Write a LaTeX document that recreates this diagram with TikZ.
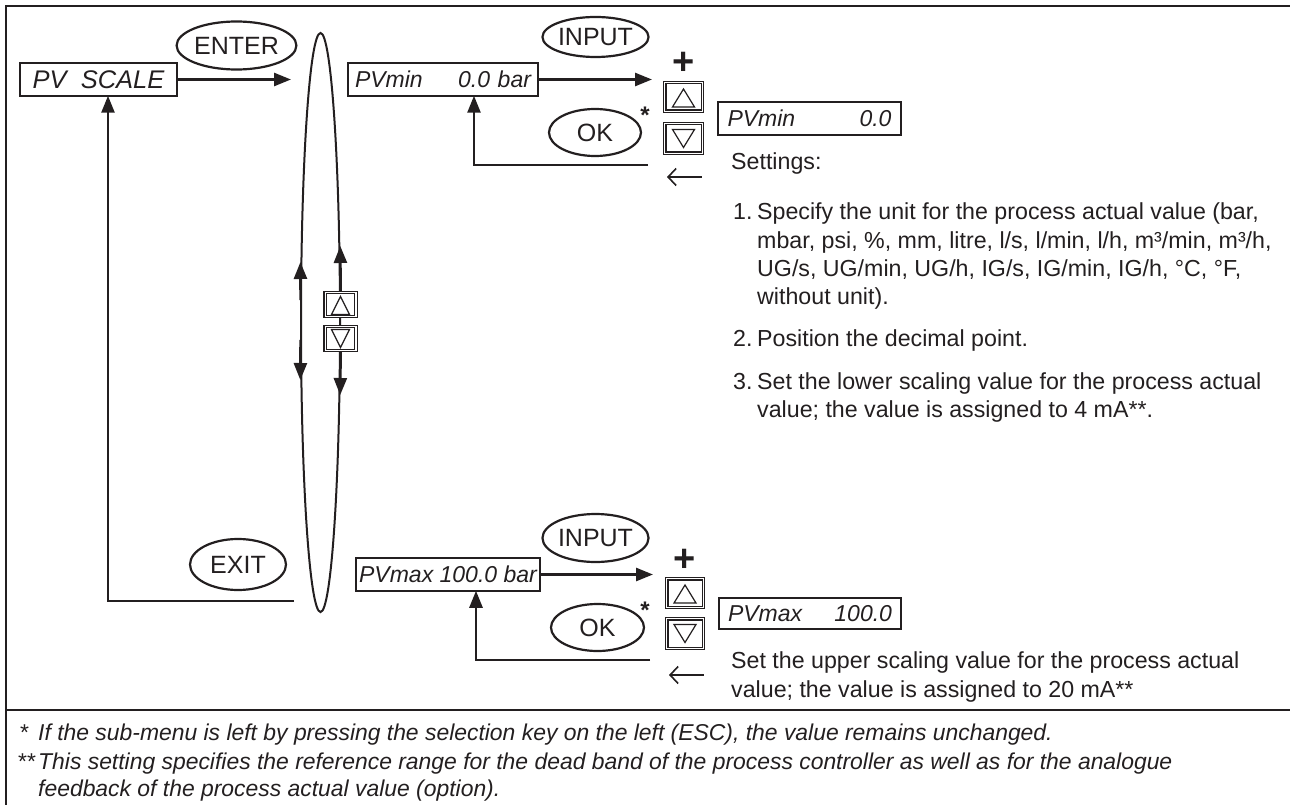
\documentclass[tikz,border=0pt]{standalone}
\usepackage{fontspec}
\setmainfont{Liberation Sans}
\usetikzlibrary{shapes.geometric,arrows.meta,calc}
\definecolor{ink}{RGB}{35,31,32}
\begin{document}
\begin{tikzpicture}[x=1pt,y=-1pt,
  box/.style={draw=ink, line width=2.4pt, rectangle, inner sep=0pt, outer sep=0pt, text=ink,
    font=\fontsize{23}{27}\selectfont\itshape},
  oval/.style={draw=ink, ellipse, line width=2.2pt, inner sep=0pt, outer sep=0pt, text=ink,
    font=\fontsize{25}{28}\selectfont},
  arr/.style={draw=ink, line width=2.6pt, -{Triangle[length=17pt,width=13pt]}},
  backarr/.style={draw=ink, line width=1.6pt, {Straight Barb[length=8pt,width=17pt]}-},
  key/.style={draw=ink, line width=1.2pt, double=white, double distance=1.2pt, fill=white,
    inner sep=0pt, outer sep=0pt},
  keyup/.style 2 args={key, path picture={\draw[ink, line width=1.2pt, line join=miter]
     ($(path picture bounding box.center)+(-#1,#2/2+1)$) --
     ($(path picture bounding box.center)+(0,-#2/2+1)$) --
     ($(path picture bounding box.center)+(#1,#2/2+1)$) -- cycle;}},
  keydown/.style 2 args={key, path picture={\draw[ink, line width=1.2pt, line join=miter]
     ($(path picture bounding box.center)+(-#1,-#2/2)$) --
     ($(path picture bounding box.center)+(0,#2/2)$) --
     ($(path picture bounding box.center)+(#1,-#2/2)$) -- cycle;}},
  txt/.style={text=ink, anchor=base west, inner sep=0pt, font=\fontsize{23.2}{28}\selectfont},
  foot/.style={text=ink, anchor=base west, inner sep=0pt, font=\fontsize{22.9}{27}\selectfont\itshape},
  plussign/.style={text=ink, inner sep=0pt, font=\fontsize{38}{38}\selectfont\bfseries},
  starsign/.style={text=ink, inner sep=0pt, font=\fontsize{24}{24}\selectfont\bfseries}
]
\useasboundingbox (0,0) rectangle (1290,805);
% frame
\draw[ink, line width=2.5pt] (1290,6) -- (6,6) -- (6,805);
\draw[ink, line width=2pt] (6,709.5) -- (1290,709.5);

% left part
\node[box, minimum width=156.5, minimum height=32.5, font=\fontsize{25.5}{30}\selectfont\itshape] (pvscale) at (98.5,79.5) {PV\ \ SCALE};
\node[oval, minimum width=99, minimum height=48] (enter) at (236.5,45.5) {ENTER};
\node[oval, minimum width=96, minimum height=51] (exit) at (238,564.5) {EXIT};
\node[draw=ink, ellipse, line width=2pt, inner sep=0pt, minimum width=39, minimum height=579] (big) at (320.5,322.5) {};

\coordinate (entertip) at (291,79.5);
\draw[arr] (pvscale.east) -- (entertip);

\coordinate (ex1) at (294,601);
\coordinate (ex2) at (108,601);
\draw[arr] (ex1) -- (ex2) -- (ex2 |- pvscale.south);

% arrows on big ellipse
\coordinate (lua) at (300.6,300); \coordinate (lub) at (300.4,262);
\coordinate (lda) at (300.6,340); \coordinate (ldb) at (300.3,380);
\coordinate (rua) at (340.6,291); \coordinate (rub) at (340.3,246);
\coordinate (rda) at (340.6,352); \coordinate (rdb) at (340.2,395);
\draw[arr] (lua) -- (lub);
\draw[arr] (lda) -- (ldb);
\draw[arr] (rua) -- (rub);
\draw[arr] (rda) -- (rdb);
\node[keyup={9}{18}, minimum width=30.8, minimum height=23.8] (mup) at (340.5,304.5) {};
\node[keydown={9}{18}, minimum width=30.8, minimum height=23.8] (mdown) at (340.5,338.5) {};

% top branch
\node[box, minimum width=189.5, minimum height=32.5, text width=176] (pvmin) at (443,79.5) {PVmin\hfill 0.0 bar};
\node[oval, minimum width=93, minimum height=40] (input1) at (595.5,37) {INPUT};
\coordinate (inputtip1) at (652,79.5);
\draw[arr] (pvmin.east) -- (inputtip1);
\node[plussign] (plus1) at (683.5,63) {+};
\node[keyup={11}{18}, minimum width=37.6, minimum height=28.6] (kup1) at (683.5,97) {};
\node[keydown={11}{18}, minimum width=37.6, minimum height=29.6] (kdown1) at (683.5,138.5) {};
\node[oval, minimum width=92, minimum height=47] (ok1) at (595,132.5) {OK};
\node[starsign] (star1) at (645,115) {*};
\coordinate (r1) at (648,165);
\coordinate (c1) at (474,165);
\draw[arr] (r1) -- (c1) -- (c1 |- pvmin.south);
\coordinate (b1a) at (667,177); \coordinate (b1b) at (702,177);
\draw[backarr] (b1a) -- (b1b);
\node[box, minimum width=182.5, minimum height=32.5, text width=164] (pvmin0) at (809.5,118.5) {PVmin\hfill 0.0};

\node[txt] (settings) at (731,170) {Settings:};
\node[txt] (n1) at (733,219.5) {1.};
\node[txt] (t1a) at (757,219.5) {Specify the unit for the process actual value (bar,};
\node[txt] (t1b) at (757,248) {mbar, psi, \%, mm, litre, l/s, l/min, l/h, m³/min, m³/h,};
\node[txt] (t1c) at (757,276.5) {UG/s, UG/min, UG/h, IG/s, IG/min, IG/h, °C, °F,};
\node[txt] (t1d) at (757,304.5) {without unit).};
\node[txt] (n2) at (733,346.5) {2.};
\node[txt] (t2a) at (757,346.5) {Position the decimal point.};
\node[txt] (n3) at (733,389.5) {3.};
\node[txt] (t3a) at (757,389.5) {Set the lower scaling value for the process actual};
\node[txt] (t3b) at (757,417.5) {value; the value is assigned to 4 mA**.};

% bottom branch
\node[box, minimum width=183.5, minimum height=32.5] (pvmax) at (448,574.5) {PVmax 100.0 bar};
\node[oval, minimum width=91, minimum height=48] (input2) at (595.5,538) {INPUT};
\coordinate (inputtip2) at (653,574.5);
\draw[arr] (pvmax.east) -- (inputtip2);
\node[plussign] (plus2) at (685,560) {+};
\node[keyup={11}{18}, minimum width=36.6, minimum height=28.6] (kup2) at (685,593) {};
\node[keydown={11}{18}, minimum width=36.6, minimum height=29.6] (kdown2) at (685,633.5) {};
\node[oval, minimum width=93, minimum height=47] (ok2) at (597.5,627.5) {OK};
\node[starsign] (star2) at (645,610) {*};
\coordinate (r2) at (650,660);
\coordinate (c2) at (476,660);
\draw[arr] (r2) -- (c2) -- (c2 |- pvmax.south);
\coordinate (b2a) at (669,675); \coordinate (b2b) at (704,675);
\draw[backarr] (b2a) -- (b2b);
\node[box, minimum width=181.5, minimum height=30.5, text width=164] (pvmax0) at (810,613.5) {PVmax\hfill 100.0};
\node[txt] (t4a) at (731,668) {Set the upper scaling value for the process actual};
\node[txt] (t4b) at (731,697) {value; the value is assigned to 20 mA**};

% footnotes
\node[foot, font=\fontsize{22.9}{27}\selectfont] (s1) at (20,740) {*};
\node[foot] (f1) at (38,740) {If the sub-menu is left by pressing the selection key on the left (ESC), the value remains unchanged.};
\node[foot, font=\fontsize{22.9}{27}\selectfont] (s2) at (18,769) {**};
\node[foot] (f2) at (38,769) {This setting specifies the reference range for the dead band of the process controller as well as for the analogue};
\node[foot] (f3) at (38,796) {feedback of the process actual value (option).};
\end{tikzpicture}
\end{document}
